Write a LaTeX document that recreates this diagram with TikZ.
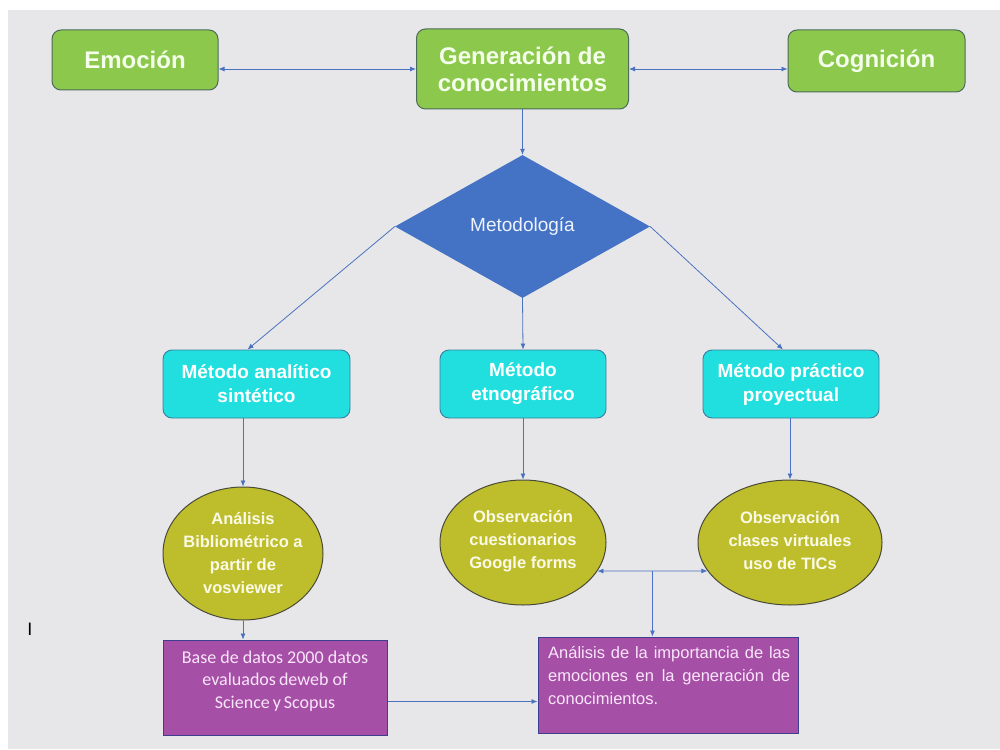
\documentclass[tikz,border=0pt]{standalone}
\usepackage{fontspec}
\setmainfont{Liberation Sans}
\newfontfamily\carlfont{Carlito}
\usetikzlibrary{shapes.geometric,arrows.meta,calc}
\definecolor{bgpaper}{HTML}{E7E7E9}
\definecolor{gfill}{HTML}{8CC84B}
\definecolor{gborder}{HTML}{4D6B5A}
\definecolor{gtext}{HTML}{F4FFEC}
\definecolor{cfill}{HTML}{22DFDF}
\definecolor{cborder}{HTML}{3A7FA0}
\definecolor{dfill}{HTML}{4472C4}
\definecolor{dtext}{HTML}{EEF3FF}
\definecolor{ofill}{HTML}{BEBE2C}
\definecolor{oborder}{HTML}{4A4A3A}
\definecolor{otext}{HTML}{FAFAE6}
\definecolor{pfill}{HTML}{A64FA6}
\definecolor{pborder}{HTML}{3E3E8E}
\definecolor{ptext}{HTML}{FAE6FA}
\definecolor{acol}{HTML}{4A72C0}
\begin{document}
\begin{tikzpicture}[x=1pt,y=-1pt,
  gbox/.style={draw=gborder, line width=1pt, fill=gfill, rounded corners=9pt, text=gtext,
    font=\bfseries\fontsize{24}{27}\selectfont, align=center, inner sep=0pt},
  cbox/.style={draw=cborder, line width=0.9pt, fill=cfill, rounded corners=9pt, text=white,
    font=\bfseries\fontsize{19}{24}\selectfont, align=center, inner sep=0pt},
  oval/.style={ellipse, draw=oborder, line width=1pt, fill=ofill, inner sep=0pt},
  ovaltext/.style={text=otext, font=\bfseries\fontsize{16.5}{23}\selectfont, align=center, inner sep=0pt},
  pbox/.style={draw=pborder, line width=1pt, fill=pfill, inner sep=0pt},
  arr/.style={draw=acol, line width=0.8pt, -{Latex[length=6pt,width=5pt]}},
  darr/.style={draw=acol, line width=0.8pt, {Latex[length=6pt,width=5pt]}-{Latex[length=6pt,width=5pt]}}
]
\useasboundingbox (0,0) rectangle (1000,749);
\fill[bgpaper] (8,10) rectangle (1000,749);

% top row
\node[gbox, minimum width=166pt, minimum height=60pt] (emo) at (135,60) {Emoción};
\node[gbox, minimum width=212pt, minimum height=80pt] (gen) at (522.5,69) {Generación de\\conocimientos};
\node[gbox, minimum width=177pt, minimum height=62pt] (cog) at (876.5,61) {Cognición};

% diamond
\node[diamond, fill=dfill, draw=none, minimum width=255pt, minimum height=143pt, inner sep=0pt,
  text=dtext, font=\fontsize{19}{22}\selectfont] (met) at (522.5,226.5) {Metodología};

% methods
\node[cbox, minimum width=187pt, minimum height=68pt] (mana) at (256.5,384) {Método analítico\\sintético};
\node[cbox, minimum width=166pt, minimum height=68pt] (metn) at (523,384) {Método\\etnográfico};
\node[cbox, minimum width=176pt, minimum height=68pt] (mpra) at (791,384) {Método práctico\\proyectual};

% ellipses
\node[oval, minimum width=160pt, minimum height=133pt] (lel) at (243,553.5) {};
\node[ovaltext] (lelt) at (243,553) {Análisis\\Bibliométrico a\\partir de\\vosviewer};
\node[oval, minimum width=166pt, minimum height=125pt] (mel) at (523,542.5) {};
\node[ovaltext] (melt) at (523,541) {Observación\\cuestionarios\\Google forms};
\node[oval, minimum width=184pt, minimum height=125pt] (rel) at (790,542.5) {};
\node[ovaltext] (relt) at (790,541) {Observación\\clases virtuales\\uso de TICs};

% purple boxes
\node[pbox, minimum width=224pt, minimum height=95pt] (lpb) at (275,687.5) {};
\node[text=ptext, font=\carlfont\fontsize{18}{22.5}\selectfont, align=center, inner sep=0pt] (lpbt) at (275,681)
  {Base de datos 2000 datos\\evaluados\,deweb of\\Science\,y\,Scopus};
\node[pbox, minimum width=260pt, minimum height=96pt] (rpb) at (668,685) {};
\node[text=ptext, font=\fontsize{16.5}{23}\selectfont, align=left, inner sep=0pt, anchor=north west] (rpbt) at (548,646)
  {\makebox[242pt][s]{Análisis de la importancia de las}\\
   \makebox[242pt][s]{emociones en la generación de}\\
   conocimientos.};

% stray mark
\node[text=black, font=\fontsize{18}{20}\selectfont, inner sep=0pt] (cursor) at (30,629) {I};

% connectors
\draw[darr] (emo.east |- gen.center) -- (gen.west);
\draw[darr] (gen.east) -- (cog.west |- gen.center);
\draw[arr] (gen.south) -- (met.north);
\draw[arr] (met.west) -- ([xshift=-9pt]mana.north);
\draw[arr] (met.south) -- (metn.north);
\draw[arr] (met.east) -- ([xshift=-8pt]mpra.north);
\draw[arr] ([xshift=-13.5pt]mana.south) -- (lel.north);
\draw[arr] (metn.south) -- (mel.north);
\draw[arr] ([xshift=-1pt]mpra.south) -- (rel.north);
\draw[darr] (mel.-21) -- (rel.-161);
\coordinate (jn) at ($(mel.-21)!0.5!(rel.-161)$);
\draw[arr] (jn) -- (jn |- rpb.north);
\draw[arr] (lel.south) -- (lel.south |- lpb.north);
\draw[arr] ([yshift=-14pt]lpb.east) -- ([yshift=-14pt]lpb.east -| rpb.west);
\end{tikzpicture}
\end{document}
